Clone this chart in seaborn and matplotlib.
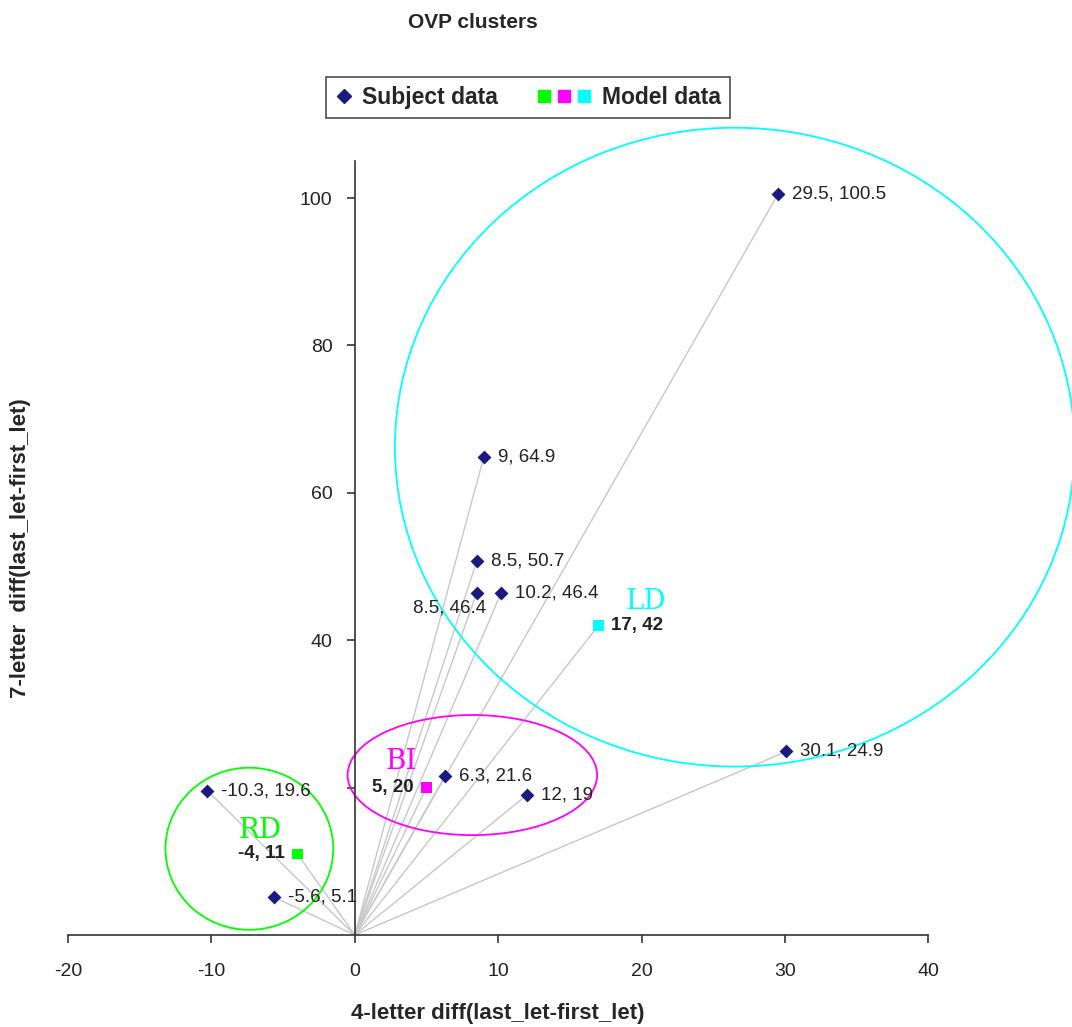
import matplotlib
matplotlib.use("Agg")
import matplotlib.pyplot as plt
import seaborn as sns
import pandas as pd
from matplotlib.patches import Ellipse
from matplotlib.lines import Line2D

sns.set_style("white")
plt.rcParams['font.family'] = ['Liberation Sans', 'DejaVu Sans']
plt.rcParams['axes.unicode_minus'] = False

# subject data
subj_x = [29.5, 9, 8.5, 8.5, 10.2, 30.1, 6.3, 12, -10.3, -5.6]
subj_y = [100.5, 64.9, 50.7, 46.4, 46.4, 24.9, 21.6, 19, 19.6, 5.1]
subj_lab = ['29.5, 100.5', '9, 64.9', '8.5, 50.7', '8.5, 46.4', '10.2, 46.4',
            '30.1, 24.9', '6.3, 21.6', '12, 19', '-10.3, 19.6', '-5.6, 5.1']

# model data
model_x = [-4, 5, 17]
model_y = [11, 20, 42]
model_lab = ['-4, 11', '5, 20', '17, 42']
model_name = ['RD', 'BI', 'LD']
model_col = ['#00ff00', '#ff00ff', '#00ffff']

subj = pd.DataFrame({'x': subj_x, 'y': subj_y, 'label': subj_lab})
model = pd.DataFrame({'x': model_x, 'y': model_y, 'label': model_lab, 'name': model_name})

fig = plt.figure(figsize=(10.72, 10.27), dpi=100)
ax = fig.add_axes([0.0634, 0.0896, 0.8026, 0.7534])

# grey rays from origin
for x, y in zip(subj_x + model_x, subj_y + model_y):
    ax.plot([0, x], [0, y], color='#c8c8c8', lw=1, zorder=1)

# cluster outlines
ax.add_patch(Ellipse((26.5, 66.2), 47.4, 86.7, fill=False, ec='#00ffff', lw=1.3, clip_on=False, zorder=2))
ax.add_patch(Ellipse((8.2, 21.7), 17.4, 16.3, fill=False, ec='#ff00ff', lw=1.3, clip_on=False, zorder=2))
ax.add_patch(Ellipse((-7.35, 11.7), 11.7, 22.0, fill=False, ec='#00ff00', lw=1.3, clip_on=False, zorder=2))

sns.scatterplot(data=subj, x='x', y='y', marker='D', s=50, color='#1a1a80',
                edgecolor='#1a1a80', linewidth=0, ax=ax, zorder=3, legend=False)
sns.scatterplot(data=model, x='x', y='y', hue='name', palette=model_col, marker='s',
                s=55, linewidth=0, ax=ax, zorder=3, legend=False)

# point labels
offsets = {'8.5, 46.4': (7, -11, 'right')}
for x, y, t in zip(subj_x, subj_y, subj_lab):
    dx, dy, ha = offsets.get(t, (10, 0, 'left'))
    ax.annotate(t, (x, y), xytext=(dx, dy), textcoords='offset points', ha=ha, va='center',
                fontsize=13.5, color='#222222', zorder=4)

moff = [(-9, 0, 'right'), (-9, 0, 'right'), (9, 0, 'left')]
noff = [(-27, 17), (-18, 19), (34, 17)]
for i in range(len(model_x)):
    dx, dy, ha = moff[i]
    ax.annotate(model_lab[i], (model_x[i], model_y[i]), xytext=(dx, dy), textcoords='offset points',
                ha=ha, va='center', fontsize=13.5, fontweight='bold', color='#222222', zorder=4)
    ax.annotate(model_name[i], (model_x[i], model_y[i]), xytext=noff[i], textcoords='offset points',
                ha='center', va='center', fontsize=20, color=model_col[i], family='DejaVu Serif', zorder=4)

ax.set_xlim(-20, 40)
ax.set_ylim(0, 105)
ax.spines['top'].set_visible(False)
ax.spines['right'].set_visible(False)
ax.spines['left'].set_position(('data', 0))
for s in ['left', 'bottom']:
    ax.spines[s].set_color('#333333')
    ax.spines[s].set_linewidth(1.2)

ax.set_xticks([-20, -10, 0, 10, 20, 30, 40])
ax.set_yticks([20, 40, 60, 80, 100])
ax.set_yticklabels(['', '40', '60', '80', '100'])
ax.tick_params(axis='both', direction='out', length=6, width=1.2, color='#333333',
               bottom=True, left=True, labelcolor='#222222')
ax.tick_params(axis='x', labelsize=14, pad=14)
ax.tick_params(axis='y', labelsize=14, pad=10)

ax.set_xlabel('4-letter diff(last_let-first_let)', fontsize=16, fontweight='bold', labelpad=17)
ax.set_ylabel('7-letter  diff(last_let-first_let)', fontsize=16, fontweight='bold')
ax.yaxis.set_label_coords(-0.043, 0.5)

fig.text(0.441, 0.978, 'OVP clusters', ha='center', va='center', fontsize=15, fontweight='bold')

# legend: diamond for subjects, three coloured squares for the models
handles = [Line2D([], [], marker='D', color='#1a1a80', ls='', markersize=7)]
handles += [Line2D([], [], marker='s', color=c, ls='', markersize=9) for c in model_col]
labels = ['Subject data' + ' ' * 7, '', '', 'Model data']
leg = fig.legend(handles, labels, loc='center', bbox_to_anchor=(0.493, 0.905), ncol=4,
                 frameon=True, fancybox=False, edgecolor='#222222', handlelength=0.7,
                 columnspacing=-0.28, handletextpad=0.45, borderpad=0.4,
                 prop={'weight': 'bold', 'size': 16.5})
leg.get_frame().set_linewidth(1.2)

fig.savefig('out.png', dpi=100)
